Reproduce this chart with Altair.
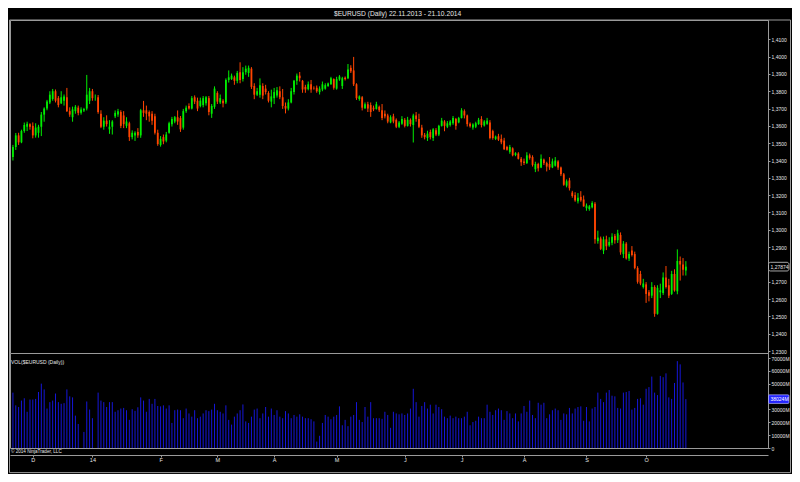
import altair as alt
import pandas as pd

# ---------------- data ----------------
opens = [1.3420, 1.3478, 1.3545, 1.3505, 1.3570, 1.3595, 1.3610, 1.3600, 1.3545, 1.3560,
 1.3595, 1.3665, 1.3700, 1.3735, 1.3755, 1.3800, 1.3760, 1.3730, 1.3745, 1.3765,
 1.3685, 1.3650, 1.3685, 1.3705, 1.3675, 1.3688, 1.3700, 1.3745, 1.3800, 1.3762,
 1.3765, 1.3670, 1.3595, 1.3630, 1.3580, 1.3595, 1.3655, 1.3665, 1.3680, 1.3660,
 1.3600, 1.3615, 1.3535, 1.3545, 1.3565, 1.3545, 1.3690, 1.3690, 1.3680, 1.3670,
 1.3655, 1.3560, 1.3490, 1.3535, 1.3515, 1.3560, 1.3610, 1.3625, 1.3650, 1.3645,
 1.3590, 1.3685, 1.3715, 1.3700, 1.3765, 1.3745, 1.3715, 1.3720, 1.3730, 1.3760,
 1.3670, 1.3710, 1.3790, 1.3735, 1.3745, 1.3735, 1.3865, 1.3870, 1.3880, 1.3860,
 1.3910, 1.3870, 1.3910, 1.3905, 1.3930, 1.3830, 1.3780, 1.3780, 1.3830, 1.3815,
 1.3790, 1.3740, 1.3760, 1.3775, 1.3800, 1.3765, 1.3715, 1.3700, 1.3735, 1.3795,
 1.3860, 1.3890, 1.3860, 1.3825, 1.3812, 1.3840, 1.3815, 1.3820, 1.3795, 1.3810,
 1.3815, 1.3830, 1.3840, 1.3870, 1.3815, 1.3868, 1.3830, 1.3878, 1.3875, 1.3935,
 1.3920, 1.3840, 1.3755, 1.3765, 1.3702, 1.3725, 1.3720, 1.3705, 1.3698, 1.3710,
 1.3690, 1.3670, 1.3660, 1.3620, 1.3655, 1.3635, 1.3595, 1.3612, 1.3635, 1.3600,
 1.3635, 1.3605, 1.3660, 1.3640, 1.3590, 1.3548, 1.3530, 1.3565, 1.3530, 1.3575,
 1.3550, 1.3600, 1.3625, 1.3595, 1.3605, 1.3615, 1.3640, 1.3620, 1.3645, 1.3685,
 1.3660, 1.3612, 1.3590, 1.3595, 1.3610, 1.3640, 1.3602, 1.3612, 1.3620, 1.3570,
 1.3525, 1.3540, 1.3525, 1.3515, 1.3478, 1.3450, 1.3470, 1.3432, 1.3440, 1.3410,
 1.3395, 1.3385, 1.3430, 1.3420, 1.3350, 1.3380, 1.3360, 1.3405, 1.3385, 1.3380,
 1.3360, 1.3370, 1.3395, 1.3360, 1.3320, 1.3255, 1.3285, 1.3215, 1.3200, 1.3165,
 1.3190, 1.3175, 1.3125, 1.3120, 1.3130, 1.3150, 1.2935, 1.2950, 1.2880, 1.2945,
 1.2910, 1.2925, 1.2965, 1.2940, 1.2970, 1.2860, 1.2920, 1.2835, 1.2880, 1.2860,
 1.2780, 1.2745, 1.2670, 1.2685, 1.2640, 1.2620, 1.2670, 1.2515, 1.2640, 1.2635,
 1.2725, 1.2680, 1.2630, 1.2745, 1.2645, 1.2820, 1.2800, 1.2765]

highs = [1.3490, 1.3559, 1.3560, 1.3578, 1.3619, 1.3624, 1.3615, 1.3620, 1.3615, 1.3606,
 1.3680, 1.3707, 1.3750, 1.3800, 1.3813, 1.3810, 1.3772, 1.3800, 1.3781, 1.3819,
 1.3707, 1.3711, 1.3720, 1.3717, 1.3707, 1.3704, 1.3894, 1.3819, 1.3813, 1.3781,
 1.3778, 1.3690, 1.3650, 1.3661, 1.3633, 1.3633, 1.3689, 1.3698, 1.3690, 1.3685,
 1.3650, 1.3624, 1.3574, 1.3569, 1.3587, 1.3698, 1.3744, 1.3717, 1.3689, 1.3685,
 1.3670, 1.3578, 1.3541, 1.3550, 1.3565, 1.3624, 1.3652, 1.3657, 1.3689, 1.3657,
 1.3698, 1.3717, 1.3730, 1.3772, 1.3776, 1.3763, 1.3763, 1.3772, 1.3772, 1.3772,
 1.3726, 1.3828, 1.3800, 1.3781, 1.3754, 1.3874, 1.3920, 1.3902, 1.3890, 1.3917,
 1.3967, 1.3939, 1.3948, 1.3948, 1.3939, 1.3846, 1.3819, 1.3874, 1.3846, 1.3837,
 1.3800, 1.3809, 1.3819, 1.3824, 1.3828, 1.3813, 1.3735, 1.3754, 1.3819, 1.3865,
 1.3902, 1.3911, 1.3865, 1.3837, 1.3856, 1.3865, 1.3828, 1.3833, 1.3828, 1.3856,
 1.3846, 1.3850, 1.3883, 1.3874, 1.3883, 1.3893, 1.3883, 1.3885, 1.3957, 1.3950,
 1.3998, 1.3846, 1.3776, 1.3772, 1.3735, 1.3739, 1.3735, 1.3717, 1.3739, 1.3717,
 1.3726, 1.3689, 1.3670, 1.3661, 1.3670, 1.3643, 1.3628, 1.3656, 1.3645, 1.3652,
 1.3643, 1.3670, 1.3680, 1.3670, 1.3606, 1.3559, 1.3572, 1.3578, 1.3587, 1.3587,
 1.3606, 1.3646, 1.3633, 1.3628, 1.3633, 1.3657, 1.3646, 1.3652, 1.3702, 1.3695,
 1.3665, 1.3620, 1.3615, 1.3624, 1.3646, 1.3656, 1.3633, 1.3646, 1.3633, 1.3578,
 1.3544, 1.3554, 1.3550, 1.3531, 1.3485, 1.3490, 1.3476, 1.3448, 1.3448, 1.3420,
 1.3411, 1.3448, 1.3440, 1.3430, 1.3393, 1.3387, 1.3435, 1.3411, 1.3393, 1.3420,
 1.3411, 1.3420, 1.3402, 1.3365, 1.3328, 1.3291, 1.3300, 1.3225, 1.3217, 1.3212,
 1.3223, 1.3198, 1.3152, 1.3143, 1.3165, 1.3160, 1.2995, 1.2961, 1.2961, 1.2966,
 1.2957, 1.2980, 1.2976, 1.3000, 1.2985, 1.2935, 1.2929, 1.2874, 1.2906, 1.2874,
 1.2790, 1.2763, 1.2717, 1.2698, 1.2652, 1.2698, 1.2680, 1.2680, 1.2689, 1.2754,
 1.2791, 1.2717, 1.2763, 1.2772, 1.2887, 1.2846, 1.2837, 1.2819]

lows = [1.3400, 1.3461, 1.3490, 1.3500, 1.3560, 1.3570, 1.3578, 1.3528, 1.3532, 1.3532,
 1.3541, 1.3624, 1.3690, 1.3726, 1.3745, 1.3735, 1.3707, 1.3726, 1.3717, 1.3680,
 1.3652, 1.3624, 1.3670, 1.3661, 1.3665, 1.3680, 1.3689, 1.3726, 1.3745, 1.3745,
 1.3670, 1.3587, 1.3578, 1.3596, 1.3554, 1.3550, 1.3645, 1.3652, 1.3587, 1.3587,
 1.3587, 1.3513, 1.3522, 1.3513, 1.3531, 1.3531, 1.3652, 1.3633, 1.3624, 1.3606,
 1.3550, 1.3485, 1.3480, 1.3494, 1.3505, 1.3555, 1.3596, 1.3615, 1.3606, 1.3565,
 1.3578, 1.3675, 1.3694, 1.3695, 1.3726, 1.3685, 1.3707, 1.3707, 1.3717, 1.3661,
 1.3646, 1.3698, 1.3726, 1.3726, 1.3707, 1.3726, 1.3850, 1.3865, 1.3837, 1.3846,
 1.3846, 1.3856, 1.3895, 1.3883, 1.3813, 1.3754, 1.3772, 1.3763, 1.3754, 1.3781,
 1.3735, 1.3707, 1.3726, 1.3763, 1.3754, 1.3698, 1.3672, 1.3689, 1.3730, 1.3781,
 1.3837, 1.3856, 1.3791, 1.3791, 1.3805, 1.3791, 1.3809, 1.3791, 1.3781, 1.3800,
 1.3809, 1.3825, 1.3837, 1.3809, 1.3809, 1.3860, 1.3813, 1.3862, 1.3870, 1.3905,
 1.3830, 1.3750, 1.3745, 1.3689, 1.3698, 1.3680, 1.3652, 1.3685, 1.3694, 1.3680,
 1.3633, 1.3643, 1.3615, 1.3615, 1.3615, 1.3587, 1.3587, 1.3606, 1.3591, 1.3596,
 1.3596, 1.3504, 1.3624, 1.3587, 1.3531, 1.3522, 1.3513, 1.3522, 1.3513, 1.3541,
 1.3541, 1.3596, 1.3569, 1.3587, 1.3596, 1.3606, 1.3578, 1.3615, 1.3643, 1.3643,
 1.3596, 1.3590, 1.3578, 1.3587, 1.3606, 1.3591, 1.3596, 1.3606, 1.3522, 1.3520,
 1.3518, 1.3513, 1.3494, 1.3461, 1.3457, 1.3439, 1.3424, 1.3425, 1.3406, 1.3369,
 1.3374, 1.3380, 1.3405, 1.3365, 1.3333, 1.3337, 1.3356, 1.3374, 1.3337, 1.3346,
 1.3356, 1.3365, 1.3346, 1.3310, 1.3254, 1.3245, 1.3227, 1.3185, 1.3162, 1.3152,
 1.3162, 1.3134, 1.3110, 1.3110, 1.3124, 1.2920, 1.2920, 1.2883, 1.2860, 1.2883,
 1.2902, 1.2911, 1.2920, 1.2924, 1.2856, 1.2837, 1.2828, 1.2820, 1.2846, 1.2772,
 1.2689, 1.2680, 1.2661, 1.2578, 1.2587, 1.2606, 1.2498, 1.2510, 1.2606, 1.2624,
 1.2661, 1.2606, 1.2624, 1.2643, 1.2628, 1.2707, 1.2736, 1.2736]

closes = [1.3478, 1.3545, 1.3505, 1.3570, 1.3605, 1.3612, 1.3595, 1.3545, 1.3590, 1.3595,
 1.3665, 1.3700, 1.3740, 1.3780, 1.3800, 1.3745, 1.3720, 1.3765, 1.3770, 1.3685,
 1.3665, 1.3695, 1.3710, 1.3675, 1.3695, 1.3698, 1.3780, 1.3800, 1.3760, 1.3762,
 1.3680, 1.3595, 1.3630, 1.3610, 1.3595, 1.3625, 1.3675, 1.3685, 1.3600, 1.3610,
 1.3625, 1.3535, 1.3560, 1.3560, 1.3545, 1.3690, 1.3675, 1.3670, 1.3655, 1.3630,
 1.3560, 1.3495, 1.3525, 1.3510, 1.3550, 1.3615, 1.3640, 1.3650, 1.3625, 1.3580,
 1.3685, 1.3705, 1.3700, 1.3760, 1.3740, 1.3700, 1.3745, 1.3760, 1.3765, 1.3680,
 1.3715, 1.3815, 1.3740, 1.3760, 1.3730, 1.3865, 1.3880, 1.3890, 1.3860, 1.3905,
 1.3865, 1.3910, 1.3930, 1.3935, 1.3825, 1.3780, 1.3800, 1.3835, 1.3775, 1.3795,
 1.3745, 1.3770, 1.3795, 1.3805, 1.3765, 1.3715, 1.3700, 1.3735, 1.3800, 1.3860,
 1.3890, 1.3875, 1.3810, 1.3810, 1.3840, 1.3810, 1.3814, 1.3800, 1.3815, 1.3840,
 1.3835, 1.3845, 1.3875, 1.3820, 1.3870, 1.3885, 1.3875, 1.3870, 1.3925, 1.3915,
 1.3840, 1.3760, 1.3770, 1.3705, 1.3725, 1.3700, 1.3680, 1.3695, 1.3725, 1.3690,
 1.3645, 1.3655, 1.3625, 1.3650, 1.3625, 1.3595, 1.3620, 1.3640, 1.3600, 1.3635,
 1.3610, 1.3660, 1.3640, 1.3595, 1.3545, 1.3535, 1.3555, 1.3535, 1.3580, 1.3550,
 1.3600, 1.3630, 1.3600, 1.3615, 1.3625, 1.3645, 1.3600, 1.3645, 1.3690, 1.3660,
 1.3610, 1.3598, 1.3608, 1.3615, 1.3635, 1.3605, 1.3625, 1.3630, 1.3530, 1.3530,
 1.3538, 1.3520, 1.3505, 1.3465, 1.3462, 1.3478, 1.3430, 1.3442, 1.3410, 1.3390,
 1.3385, 1.3430, 1.3415, 1.3375, 1.3380, 1.3355, 1.3410, 1.3385, 1.3365, 1.3360,
 1.3395, 1.3400, 1.3360, 1.3320, 1.3260, 1.3280, 1.3240, 1.3195, 1.3170, 1.3185,
 1.3170, 1.3135, 1.3140, 1.3135, 1.3155, 1.2945, 1.2955, 1.2890, 1.2945, 1.2905,
 1.2930, 1.2960, 1.2940, 1.2980, 1.2870, 1.2920, 1.2835, 1.2860, 1.2855, 1.2780,
 1.2700, 1.2690, 1.2690, 1.2630, 1.2620, 1.2670, 1.2515, 1.2665, 1.2650, 1.2725,
 1.2670, 1.2620, 1.2745, 1.2650, 1.2820, 1.2800, 1.2770, 1.27874]

volumes = [43100, 33200, 31900, 36900, 38700, 28200, 37700, 37700, 38200, 43600,
 50100, 45600, 30700, 35700, 36900, 42400, 35700, 34400, 34900, 45600,
 40200, 39400, 25200, 18700, 0, 12500, 36200, 29900, 23200, 0,
 43100, 36900, 35700, 31900, 35700, 35700, 28200, 29400, 30700, 31200,
 29400, 21900, 30200, 28900, 31700, 39400, 36900, 28200, 38200, 34400,
 38200, 32700, 32400, 33200, 30700, 33200, 19500, 29400, 29900, 29400,
 23200, 30700, 26900, 24400, 29400, 23200, 24400, 26900, 29400, 28700,
 29900, 34400, 29400, 28200, 26900, 33200, 21900, 18200, 24400, 26900,
 29400, 33900, 20700, 19500, 24400, 29900, 30700, 23200, 26900, 31900,
 24400, 30700, 25700, 29400, 24400, 23200, 28700, 26900, 23200, 25700,
 24400, 26200, 24400, 23200, 23200, 22400, 20700, 5000, 9500, 19500,
 25700, 24400, 22400, 24400, 25700, 32400, 17700, 21900, 17000, 24400,
 25700, 35700, 21900, 20200, 31900, 24400, 35700, 23200, 23200, 23200,
 22700, 28200, 25700, 15700, 28200, 26900, 26200, 26900, 25700, 26900,
 30700, 46100, 35700, 24400, 32700, 35700, 30700, 33700, 26900, 33700,
 31900, 30200, 24400, 23200, 25200, 23200, 24400, 23200, 23200, 24400,
 28200, 17700, 20200, 21200, 24400, 23200, 23200, 33700, 28200, 25700,
 29400, 30700, 29400, 21900, 28700, 26900, 23200, 26900, 20700, 26900,
 32700, 28200, 36900, 25700, 23200, 35200, 33700, 35200, 23200, 26200,
 29400, 30700, 29400, 21900, 26900, 26200, 31200, 26900, 30700, 31900,
 32400, 21200, 31900, 20700, 30700, 31900, 43100, 38200, 35700, 43100,
 45100, 40700, 40200, 31200, 30700, 43100, 43600, 44400, 29900, 31200,
 38200, 38700, 33700, 46100, 47400, 55600, 43100, 41200, 56100, 55100,
 58100, 39400, 38200, 50600, 67600, 65100, 51000, 38024]

# axis ticks (the 1,2800 and 40000M labels sit under the current-value boxes in the reference)
price_ticks = [1.23, 1.24, 1.25, 1.26, 1.27, 1.29, 1.30, 1.31, 1.32,
               1.33, 1.34, 1.35, 1.36, 1.37, 1.38, 1.39, 1.40, 1.41]
vol_ticks = [0, 10000, 20000, 30000, 50000, 60000, 70000]
month_pos = [7, 28, 52, 72, 92, 114, 138, 158, 180, 202, 223]
month_labels = ["D", "14", "F", "M", "A", "M", "J", "J", "A", "S", "O"]

title_text = "$EURUSD (Daily) 22.11.2013 - 21.10.2014"
vol_title = "VOL($EURUSD (Daily))"
copyright_text = "\u00a9 2014 NinjaTrader, LLC"

n = min(len(opens), len(highs), len(lows), len(closes), len(volumes))
df = pd.DataFrame({
    "i": list(range(n)),
    "o": opens[:n], "h": highs[:n], "l": lows[:n], "c": closes[:n], "v": volumes[:n],
})
df["dir"] = ["up" if c >= o else "down" for o, c in zip(df["o"], df["c"])]

last_price = closes[n - 1]
last_vol = volumes[n - 1]
price_box = pd.DataFrame({"p": [last_price], "lab": [f"{last_price:.5f}".replace(".", ",")]})
vol_box = pd.DataFrame({"p": [last_vol], "lab": [f"{last_vol}M"]})
one = pd.DataFrame({"k": [0]})

# ---------------- styling ----------------
FONT = "Liberation Sans"
GRAY = "#9a9a9a"
TXT = "#e6e6e6"
UP = "#00ee00"
DOWN = "#ff4500"
BLUE = "#1616d8"

W = 758
H1 = 333
H2 = 95

xscale = alt.Scale(domain=[-1.033, 265.93], nice=False, zero=False)
yprice = alt.Scale(domain=[1.228889, 1.421111], nice=False, zero=False)
yvol = alt.Scale(domain=[0, 73940], nice=False, zero=True)

price_axis = alt.Axis(orient="right", values=price_ticks, title=None, grid=False,
                      labelExpr="replace(format(datum.value, '.4f'), '.', ',')",
                      tickSize=2, tickColor=GRAY, domainColor=GRAY, labelColor=TXT,
                      labelFont=FONT, labelFontSize=5, labelPadding=1,
                      labelFlush=False, labelOverlap=False)
vol_axis = alt.Axis(orient="right", values=vol_ticks, title=None, grid=False,
                    labelExpr="datum.value == 0 ? '0' : format(datum.value, 'd') + 'M'",
                    tickSize=2, tickColor=GRAY, domainColor=GRAY, labelColor=TXT,
                    labelFont=FONT, labelFontSize=5, labelPadding=1,
                    labelFlush=False, labelOverlap=False)

month_expr = "''"
for p, lab in reversed(list(zip(month_pos, month_labels))):
    month_expr = f"datum.value == {p} ? '{lab}' : ({month_expr})"
x_axis = alt.Axis(values=month_pos, labelExpr=month_expr, title=None, grid=False,
                  offset=7, tickSize=2, tickColor=GRAY, domainColor=GRAY,
                  labelColor=TXT, labelFont=FONT, labelFontSize=5.5, labelPadding=0.5,
                  labelAngle=0, labelFlush=False, labelOverlap=False)

dir_color = alt.Color("dir:N", scale=alt.Scale(domain=["up", "down"], range=[UP, DOWN]), legend=None)

# ---------------- price panel ----------------
bounds_rect = alt.Chart(one).mark_rect(opacity=0).encode(
    x=alt.value(-1), x2=alt.value(781), y=alt.value(-10.6), y2=alt.value(453.4))
frame = alt.Chart(one).mark_rect(fill=None, stroke=GRAY, strokeWidth=1).encode(
    x=alt.value(-0.5), x2=alt.value(780.5), y=alt.value(0), y2=alt.value(452.6))
title_mark = alt.Chart(one).mark_text(font=FONT, fontSize=6.7, color=TXT, baseline="middle").encode(
    x=alt.value(387.6), y=alt.value(-5.8), text=alt.value(title_text))

pbase = alt.Chart(df).encode(x=alt.X("i:Q", scale=xscale, axis=None))
wicks = pbase.mark_rule(strokeWidth=1).encode(
    y=alt.Y("l:Q", scale=yprice, axis=price_axis), y2="h:Q", color=dir_color)
bodies = pbase.mark_rule(strokeWidth=1.8).encode(
    y=alt.Y("o:Q", scale=yprice, axis=price_axis), y2="c:Q", color=dir_color)

pbox_rect = alt.Chart(price_box).transform_calculate(
    hi="datum.p + 0.0025", lo="datum.p - 0.0025"
).mark_rect(fill="black", stroke="#cfcfcf", strokeWidth=0.8, cornerRadius=2).encode(
    x=alt.value(W + 0.5), x2=alt.value(W + 21),
    y=alt.Y("hi:Q", scale=yprice, axis=price_axis), y2="lo:Q")
pbox_text = alt.Chart(price_box).mark_text(font=FONT, fontSize=5, color=TXT, align="left",
                                           baseline="middle").encode(
    x=alt.value(W + 2.5), y=alt.Y("p:Q", scale=yprice, axis=price_axis), text="lab:N")

price_panel = alt.layer(bounds_rect, frame, title_mark, wicks, bodies, pbox_rect, pbox_text).properties(
    width=W, height=H1)

# ---------------- volume panel ----------------
vbars = alt.Chart(df).mark_rule(strokeWidth=1, color=BLUE).encode(
    x=alt.X("i:Q", scale=xscale, axis=x_axis),
    y=alt.Y("v:Q", scale=yvol, axis=vol_axis), y2=alt.datum(0))
vol_label = alt.Chart(one).mark_text(font=FONT, fontSize=5, color=TXT, align="left",
                                     baseline="middle").encode(
    x=alt.value(1), y=alt.value(8.7), text=alt.value(vol_title))
copy_label = alt.Chart(one).mark_text(font=FONT, fontSize=4.6, color=TXT, align="left",
                                      baseline="middle").encode(
    x=alt.value(1), y=alt.value(98.8), text=alt.value(copyright_text))
vbox_rect = alt.Chart(vol_box).transform_calculate(
    hi="datum.p + 3350", lo="datum.p - 3350"
).mark_rect(fill="#2424ff", stroke="#d0d0ff", strokeWidth=0.6, cornerRadius=1).encode(
    x=alt.value(W + 0.5), x2=alt.value(W + 21),
    y=alt.Y("hi:Q", scale=yvol, axis=vol_axis), y2="lo:Q")
vbox_text = alt.Chart(vol_box).mark_text(font=FONT, fontSize=5, color="white", align="left",
                                         baseline="middle").encode(
    x=alt.value(W + 2.5), y=alt.Y("p:Q", scale=yvol, axis=vol_axis), text="lab:N")

vol_panel = alt.layer(vbars, vol_label, copy_label, vbox_rect, vbox_text).properties(
    width=W, height=H2)

chart = alt.vconcat(price_panel, vol_panel, spacing=0, bounds="flush",
                    padding=0, background="black").configure_view(
    stroke=GRAY, strokeWidth=1, fill="black")

chart.save("out.html", embed_options={"renderer": "svg", "actions": False})
